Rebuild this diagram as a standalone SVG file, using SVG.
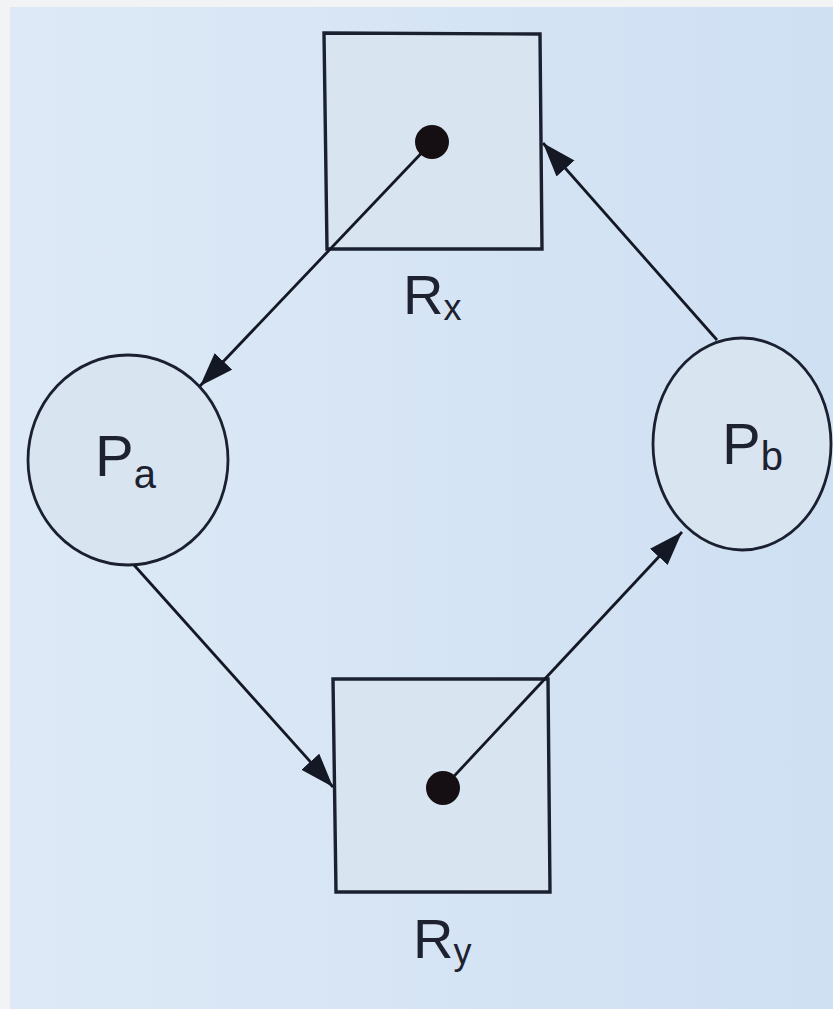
<svg xmlns="http://www.w3.org/2000/svg" width="833" height="1009" viewBox="0 0 833 1009">
  <defs>
    <linearGradient id="paper" x1="0" y1="0" x2="1" y2="0">
      <stop offset="0" stop-color="#dde9f6"/>
      <stop offset="1" stop-color="#cfe0f3"/>
    </linearGradient>
    <marker id="head" markerUnits="userSpaceOnUse" markerWidth="38" markerHeight="26" refX="34" refY="12" orient="auto">
      <path d="M0,0 L34,12 L0,24 Z" fill="#141824"/>
    </marker>
    <style>
      .res { fill: #d8e4f0; stroke: #1b2030; stroke-width: 3.4; }
      .proc { fill: #d8e4f0; stroke: #1b2030; stroke-width: 2.8; }
      .dot { fill: #150f14; }
      .edge { stroke: #141824; stroke-width: 2.8; fill: none; marker-end: url(#head); }
      .lbl { font-family: "Liberation Sans", Arial, sans-serif; fill: #1e2230; }
    </style>
  </defs>

  <!-- page -->
  <rect x="0" y="0" width="833" height="1009" fill="#f2f3f4"/>
  <rect x="10" y="7" width="823" height="1002" fill="url(#paper)"/>

  <!-- resource Rx -->
  <g id="Rx">
    <path class="res" d="M324,33 L540,34 L542,249 L327,249 Z"/>
    <text class="lbl" x="403" y="314" font-size="56">R<tspan font-size="36" dy="6">x</tspan></text>
  </g>

  <!-- resource Ry -->
  <g id="Ry">
    <path class="res" d="M333,679 L548,679 L550,892 L336,892 Z"/>
    <text class="lbl" x="413" y="958" font-size="56">R<tspan font-size="36" dy="6">y</tspan></text>
  </g>

  <!-- process Pa -->
  <g id="Pa">
    <ellipse class="proc" cx="128" cy="460" rx="100" ry="105"/>
    <text class="lbl" x="95" y="476" font-size="58">P<tspan font-size="40" dy="12">a</tspan></text>
  </g>

  <!-- process Pb -->
  <g id="Pb">
    <ellipse class="proc" cx="742" cy="444" rx="89" ry="106"/>
    <text class="lbl" x="722" y="464" font-size="58">P<tspan font-size="40" dy="6">b</tspan></text>
  </g>

  <!-- connectors: assignment edges start at the resource instance dot -->
  <g id="connectors">
    <line class="edge" x1="432" y1="142" x2="200" y2="386"/>
    <line class="edge" x1="717" y1="340" x2="543" y2="143"/>
    <line class="edge" x1="134" y1="565" x2="333" y2="787"/>
    <line class="edge" x1="443" y1="788" x2="682" y2="532"/>
  </g>

  <!-- resource instances -->
  <g id="instances">
    <circle class="dot" cx="432" cy="142" r="17"/>
    <circle class="dot" cx="443" cy="788" r="17"/>
  </g>
</svg>
